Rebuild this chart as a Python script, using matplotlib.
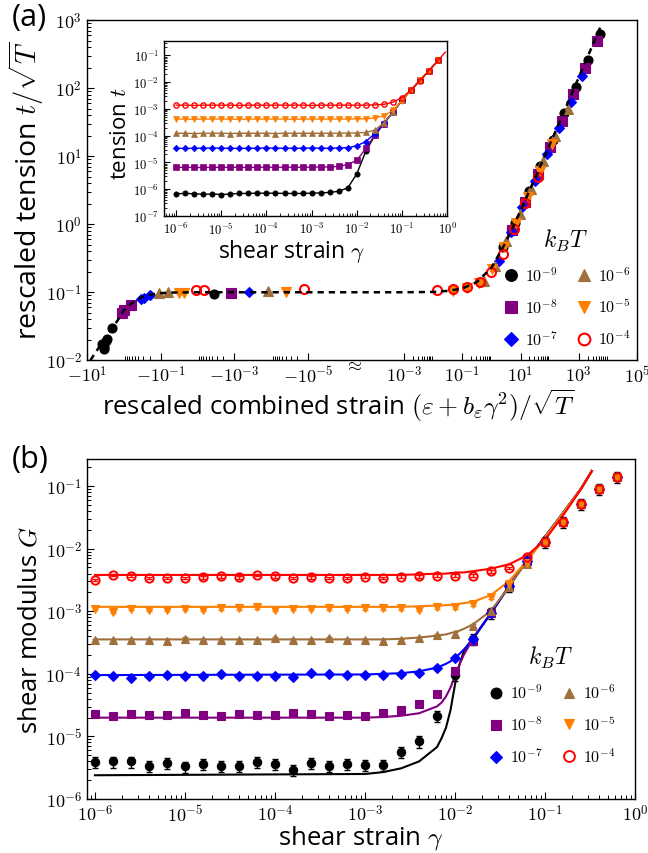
import numpy as np
import matplotlib
matplotlib.use("Agg")
import matplotlib.pyplot as plt
from matplotlib.ticker import FixedLocator, NullFormatter, LogLocator

plt.rcParams['font.family'] = ['Open Sans', 'DejaVu Sans']
plt.rcParams['mathtext.fontset'] = 'cm'

# series: thermal energy k_B T
temp_labels = ['$10^{-9}$', '$10^{-8}$', '$10^{-7}$', '$10^{-6}$', '$10^{-5}$', '$10^{-4}$']
colors = ['#000000', '#800080', '#0000ff', '#a0703c', '#ff8000', '#ff0000']
markers = ['o', 's', 'D', '^', 'v', 'o']

# shear strain grid (log10 gamma) used by the inset and panel (b)
gamma_exp = [-6.0, -5.8, -5.6, -5.4, -5.2, -5.0, -4.8, -4.6, -4.4, -4.2,
             -4.0, -3.8, -3.6, -3.4, -3.2, -3.0, -2.8, -2.6, -2.4, -2.2,
             -2.0, -1.8, -1.6, -1.4, -1.2, -1.0, -0.8, -0.6, -0.4, -0.2]

# ---- inset: log10 tension t
t_black = [-6.17, -6.16, -6.17, -6.19, -6.18, -6.20, -6.18, -6.16, -6.16, -6.15,
           -6.15, -6.15, -6.16, -6.16, -6.16, -6.15, -6.14, -6.12, -6.08, -5.95,
           -5.43, -4.58, -3.99, -3.55, -3.12, -2.68, -2.29, -1.93, -1.57, -1.19]
t_purple = [-5.19, -5.18, -5.19, -5.19, -5.18, -5.19, -5.18, -5.18, -5.19, -5.18,
            -5.18, -5.18, -5.18, -5.18, -5.18, -5.18, -5.17, -5.17, -5.15, -5.08,
            -4.92, -4.48, -3.97, -3.55, -3.12, -2.68, -2.29, -1.93, -1.57, -1.19]
t_blue = [-4.47, -4.48, -4.47, -4.47, -4.46, -4.47, -4.47, -4.48, -4.47, -4.47,
          -4.46, -4.47, -4.47, -4.47, -4.47, -4.46, -4.47, -4.47, -4.46, -4.45,
          -4.38, -4.22, -3.92, -3.53, -3.12, -2.68, -2.29, -1.93, -1.57, -1.19]
t_brown = [-3.91, -3.91, -3.92, -3.91, -3.91, -3.91, -3.92, -3.91, -3.91, -3.91,
           -3.91, -3.92, -3.91, -3.91, -3.91, -3.91, -3.91, -3.91, -3.91, -3.90,
           -3.90, -3.88, -3.79, -3.52, -3.13, -2.68, -2.29, -1.93, -1.57, -1.19]
t_orange = [-3.38, -3.38, -3.39, -3.38, -3.38, -3.38, -3.38, -3.39, -3.38, -3.38,
            -3.38, -3.38, -3.38, -3.39, -3.38, -3.38, -3.38, -3.38, -3.38, -3.38,
            -3.37, -3.37, -3.34, -3.26, -3.05, -2.69, -2.29, -1.93, -1.57, -1.19]
t_red = [-2.86, -2.86, -2.87, -2.86, -2.86, -2.86, -2.86, -2.87, -2.86, -2.86,
         -2.86, -2.86, -2.86, -2.86, -2.86, -2.87, -2.86, -2.86, -2.86, -2.86,
         -2.86, -2.86, -2.85, -2.83, -2.75, -2.58, -2.30, -1.94, -1.57, -1.19]
inset_t = [t_black, t_purple, t_blue, t_brown, t_orange, t_red]
red_tail_gamma_exp = [-0.2, -0.04]
red_tail_t = [-1.19, -0.88]

# ---- panel (a) main: rescaled combined strain (x) vs rescaled tension (y)
neg_x = [[-3.8, -3.5, -3.5, -3.1, -2.8, -2.05, -3.5e-3],
         [-1.1, -0.98, -0.65, -1.23e-3],
         [-0.35, -0.28, -0.20, -3.9e-4],
         [-0.11, -0.065, -1.26e-4],
         [-0.032, -0.023, -3.9e-5],
         [-0.011, -0.0066, -1.26e-5]]
neg_y = [[0.0174, 0.0155, 0.0145, 0.019, 0.0204, 0.030, 0.093],
         [0.050, 0.055, 0.066, 0.098],
         [0.079, 0.083, 0.091, 0.100],
         [0.098, 0.100, 0.105],
         [0.098, 0.096, 0.100],
         [0.107, 0.107, 0.110]]
pos_x_exp = [[3.73, 3.33, 2.91, 2.51, 2.12, 1.68, 1.28, 0.82, 0.40],
             [3.61, 3.21, 2.81, 2.41, 2.00, 1.59, 1.15, 0.70],
             [3.12, 2.72, 2.32, 1.91, 1.51, 1.05, 0.67, 0.25],
             [2.63, 2.20, 1.78, 1.36, 0.99, 0.51, 0.13, -0.27],
             [2.09, 1.66, 1.25, 0.86, 0.42, 0.02, -0.41, -0.84, -1.31],
             [1.59, 1.17, 0.76, 0.40, -0.02, -0.39, -0.84, -1.31, -1.86]]
pos_y_exp = [[2.80, 2.41, 2.02, 1.63, 1.24, 0.86, 0.49, 0.02, -0.34],
             [2.70, 2.30, 1.91, 1.52, 1.13, 0.74, 0.33, -0.08],
             [2.18, 1.80, 1.42, 1.03, 0.64, 0.25, -0.12, -0.54],
             [1.70, 1.30, 0.93, 0.52, 0.15, -0.25, -0.61, -0.83],
             [1.18, 0.79, 0.40, 0.02, -0.34, -0.66, -0.86, -0.94, -0.98],
             [0.70, 0.32, -0.07, -0.43, -0.70, -0.85, -0.92, -0.95, -0.96]]
# theory curve (dashed)
theory_neg_x = [-8.0, -5.0, -3.0, -2.0, -1.4, -1.0, -0.7, -0.5, -0.3, -0.2,
                -0.1, -0.05, -0.01, -1e-3, -1e-6]
theory_neg_y = [0.0100, 0.0147, 0.0225, 0.030, 0.040, 0.054, 0.064, 0.075, 0.086,
                0.092, 0.097, 0.099, 0.100, 0.100, 0.100]
theory_pos_x_exp = [-4.76, -3.0, -2.0, -1.5, -1.0, -0.5, 0.0, 0.5, 1.0, 1.5,
                    2.0, 2.5, 3.0, 3.5, 3.8]
theory_pos_y_exp = [-1.0, -1.0, -0.995, -0.98, -0.945, -0.85, -0.64, -0.26, 0.20,
                    0.68, 1.17, 1.66, 2.16, 2.66, 2.96]

# ---- panel (b): log10 shear modulus G (markers)
G_black = [-5.41, -5.40, -5.40, -5.47, -5.43, -5.48, -5.44, -5.47, -5.47, -5.41,
           -5.44, -5.53, -5.43, -5.47, -5.44, -5.45, -5.45, -5.25, -5.08, -4.67,
           -4.02, -3.45, -3.03, -2.60, -2.20, -1.90, -1.57, -1.28, -1.04, -0.85]
G_purple = [-4.64, -4.67, -4.64, -4.65, -4.65, -4.62, -4.65, -4.67, -4.64, -4.66,
            -4.66, -4.63, -4.64, -4.67, -4.66, -4.67, -4.62, -4.58, -4.48, -4.32,
            -3.96, -3.47, -3.03, -2.60, -2.20, -1.90, -1.57, -1.28, -1.04, -0.85]
G_blue = [-4.02, -4.04, -4.06, -4.03, -4.02, -4.03, -4.03, -4.01, -4.03, -4.04,
          -4.03, -4.05, -3.99, -4.01, -4.02, -4.02, -4.02, -4.00, -3.98, -3.90,
          -3.74, -3.44, -3.03, -2.59, -2.19, -1.90, -1.57, -1.28, -1.04, -0.85]
G_brown = [-3.46, -3.46, -3.46, -3.46, -3.47, -3.44, -3.46, -3.46, -3.46, -3.46,
           -3.43, -3.46, -3.46, -3.43, -3.46, -3.46, -3.47, -3.46, -3.43, -3.38,
           -3.36, -3.23, -2.99, -2.62, -2.25, -1.90, -1.57, -1.28, -1.04, -0.85]
G_orange = [-2.96, -3.01, -2.96, -2.98, -2.98, -2.96, -2.98, -2.95, -2.95, -2.94,
            -2.98, -2.96, -2.96, -2.95, -2.96, -2.95, -2.95, -2.95, -2.98, -2.94,
            -2.94, -2.89, -2.78, -2.57, -2.23, -1.90, -1.57, -1.28, -1.04, -0.85]
G_red = [-2.50, -2.42, -2.43, -2.47, -2.47, -2.47, -2.46, -2.44, -2.46, -2.42,
         -2.44, -2.47, -2.46, -2.47, -2.47, -2.45, -2.47, -2.45, -2.44, -2.43,
         -2.43, -2.43, -2.36, -2.31, -2.14, -1.90, -1.57, -1.28, -1.04, -0.85]
G_data = [G_black, G_purple, G_blue, G_brown, G_orange, G_red]
G_rel_err = [0.2, 0.08, 0.05, 0.05, 0.05, 0.05]

# panel (b): fitted curves (log10 G)
fit_gamma_exp = [-6.0, -3.0, -2.8, -2.6, -2.4, -2.2, -2.15, -2.1, -2.05, -2.0,
                 -1.95, -1.9, -1.8, -1.6, -1.4, -1.2, -1.0, -0.8, -0.6, -0.48]
fit_black = [-5.62, -5.60, -5.57, -5.51, -5.40, -5.17, -5.03, -4.86, -4.58, -4.17,
             -3.85, -3.63, -3.43, -3.03, -2.60, -2.18, -1.81, -1.43, -1.04, -0.76]
fit_purple = [-4.70, -4.70, -4.69, -4.67, -4.63, -4.52, -4.46, -4.36, -4.22, -4.03,
              -3.85, -3.69, -3.44, -3.03, -2.60, -2.18, -1.81, -1.43, -1.04, -0.76]
fit_blue = [-4.02, -4.01, -4.00, -3.99, -3.96, -3.90, -3.87, -3.84, -3.80, -3.75,
            -3.68, -3.61, -3.44, -3.03, -2.60, -2.18, -1.81, -1.43, -1.04, -0.76]
fit_brown = [-3.45, -3.45, -3.45, -3.44, -3.42, -3.39, -3.38, -3.37, -3.35, -3.33,
             -3.31, -3.28, -3.21, -2.99, -2.61, -2.20, -1.81, -1.43, -1.04, -0.76]
fit_orange = [-2.93, -2.93, -2.93, -2.93, -2.92, -2.91, -2.91, -2.90, -2.90, -2.89,
              -2.88, -2.87, -2.85, -2.74, -2.52, -2.19, -1.83, -1.44, -1.04, -0.76]
fit_red = [-2.42, -2.42, -2.42, -2.42, -2.41, -2.40, -2.40, -2.40, -2.39, -2.39,
           -2.38, -2.38, -2.36, -2.32, -2.25, -2.11, -1.86, -1.47, -1.05, -0.76]
G_fits = [fit_black, fit_purple, fit_blue, fit_brown, fit_orange, fit_red]


# broken axis for the combined strain: log of |x| on the negative side,
# log of x on the positive side, joined at a tiny gap
U_LEFT, NEG_DEC = 88.0, 36.75
U_POS3, POS_DEC = 404.0, 29.0
NEG_END, POS_START = 10 ** -6.2, 10 ** -4.76
U_GAP0 = U_LEFT + 7.2 * NEG_DEC
U_GAP1 = U_POS3 + (np.log10(POS_START) + 3) * POS_DEC


def strain_fwd(x):
    shape = np.shape(x)
    x = np.atleast_1d(np.asarray(x, dtype=float)).ravel()
    u = np.full_like(x, np.nan)
    neg = x <= -NEG_END
    pos = x >= POS_START
    mid = ~(neg | pos) & np.isfinite(x)
    with np.errstate(all="ignore"):
        u[neg] = U_LEFT + (1 - np.log10(-x[neg])) * NEG_DEC
        u[pos] = U_POS3 + (np.log10(x[pos]) + 3) * POS_DEC
    u[mid] = U_GAP0 + (x[mid] + NEG_END) / (POS_START + NEG_END) * (U_GAP1 - U_GAP0)
    return u.reshape(shape)


def strain_inv(u):
    shape = np.shape(u)
    u = np.atleast_1d(np.asarray(u, dtype=float)).ravel()
    x = np.full_like(u, np.nan)
    neg = u <= U_GAP0
    pos = u >= U_GAP1
    mid = ~(neg | pos) & np.isfinite(u)
    with np.errstate(all="ignore"):
        x[neg] = -10 ** (1 - (u[neg] - U_LEFT) / NEG_DEC)
        x[pos] = 10 ** ((u[pos] - U_POS3) / POS_DEC - 3)
    x[mid] = -NEG_END + (u[mid] - U_GAP0) / (U_GAP1 - U_GAP0) * (POS_START + NEG_END)
    return x.reshape(shape)


def decade_labels(exps):
    return ['$10^{%d}$' % e for e in exps]


fig = plt.figure(figsize=(6.48, 8.54), dpi=100)
ax1 = fig.add_axes([0.134, 0.577, 0.849, 0.398])
axin = fig.add_axes([0.253, 0.746, 0.437, 0.205])
ax2 = fig.add_axes([0.134, 0.0632, 0.846, 0.398])

# ---------------- panel (a)
ax1.set_xscale('function', functions=(strain_fwd, strain_inv))
ax1.set_yscale('log')
ax1.plot(theory_neg_x + list(10 ** np.array(theory_pos_x_exp)),
         theory_neg_y + list(10 ** np.array(theory_pos_y_exp)),
         color='black', lw=1.8, ls=(0, (2.5, 2.0)), zorder=4)
handles = []
for i in range(6):
    xs = neg_x[i] + list(10 ** np.array(pos_x_exp[i]))
    ys = neg_y[i] + list(10 ** np.array(pos_y_exp[i]))
    face = 'none' if i == 5 else colors[i]
    ms = 5.5 if markers[i] == 'D' else 6.5
    h, = ax1.plot(xs, ys, ls='none', marker=markers[i], ms=ms, mfc=face,
                  mec=colors[i], mew=1.5 if i == 5 else 0.8, zorder=3,
                  label=temp_labels[i])
    handles.append(h)

ax1.set_xlim(-10, 1e5)
ax1.set_ylim(1e-2, 1e3)
major_x = [-10.0, -0.1, -1e-3, -1e-5, 1e-3, 1e-1, 10.0, 1e3, 1e5]
major_lab = ['$-10^{1}$', '$-10^{-1}$', '$-10^{-3}$', '$-10^{-5}$',
             '$10^{-3}$', '$10^{-1}$', '$10^{1}$', '$10^{3}$', '$10^{5}$']
ax1.xaxis.set_major_locator(FixedLocator(major_x))
ax1.set_xticklabels(major_lab)
minor_x = []
for d in [1e-1, 1e-3, 1e-5]:
    minor_x += [-k * d for k in range(2, 10)]
for d in [1e-3, 1e-1, 1e1, 1e3]:
    minor_x += [k * d for k in range(2, 10)]
ax1.xaxis.set_minor_locator(FixedLocator(minor_x))
ax1.xaxis.set_minor_formatter(NullFormatter())
ax1.set_yticks([10.0 ** e for e in range(-2, 4)], decade_labels(range(-2, 4)))
ax1.yaxis.set_minor_locator(LogLocator(base=10, subs=np.arange(2, 10), numticks=20))
ax1.yaxis.set_minor_formatter(NullFormatter())
ax1.set_xlabel(r'rescaled combined strain $(\varepsilon + b_\varepsilon\gamma^2)/\sqrt{T}$',
               fontsize=18.5)
ax1.xaxis.set_label_coords(0.456, -0.078)
ax1.set_ylabel(r'rescaled tension $t/\sqrt{T}$', fontsize=20.5)
ax1.yaxis.set_label_coords(-0.074, 0.5)
ax1.text(0.484, -0.012, r'$\approx$', transform=ax1.transAxes, ha='center',
         va='center', fontsize=13)
ax1.legend(handles=handles, ncol=2, loc='lower right',
           bbox_to_anchor=(1.0, 0.015), borderaxespad=0, frameon=False,
           fontsize=11.5, title='$k_BT$', title_fontsize=17, markerscale=1.3,
           handletextpad=0.3, columnspacing=1.0, labelspacing=0.85,
           handlelength=1.2)

# ---------------- inset
axin.set_xscale('log')
axin.set_yscale('log')
g = 10 ** np.array(gamma_exp)
for i in range(6):
    face = 'none' if i == 5 else colors[i]
    axin.plot(g, 10 ** np.array(inset_t[i]), color=colors[i], lw=1.0,
              marker=markers[i], ms=3.8 if markers[i] != 'D' else 3.3,
              mfc=face, mec=colors[i], mew=1.0 if i == 5 else 0.5)
axin.plot(10 ** np.array(red_tail_gamma_exp), 10 ** np.array(red_tail_t),
          color=colors[5], lw=1.0)
axin.set_xlim(10 ** -6.27, 1.0)
axin.set_ylim(1e-7, 0.35)
axin.set_xticks([10.0 ** e for e in range(-6, 1)], decade_labels(range(-6, 1)))
axin.set_yticks([10.0 ** e for e in range(-7, 0)], decade_labels(range(-7, 0)))
for a in (axin.xaxis, axin.yaxis):
    a.set_minor_locator(LogLocator(base=10, subs=np.arange(2, 10), numticks=20))
    a.set_minor_formatter(NullFormatter())
axin.set_xlabel(r'shear strain $\gamma$', fontsize=16.5)
axin.xaxis.set_label_coords(0.45, -0.12)
axin.set_ylabel(r'tension $t$', fontsize=16)
axin.yaxis.set_label_coords(-0.118, 0.474)
axin.tick_params(which='both', direction='in', labelsize=9, top=False, right=False)
axin.tick_params(which='major', length=4)
axin.tick_params(which='minor', length=2.5)

# ---------------- panel (b)
ax2.set_xscale('log')
ax2.set_yscale('log')
gf = 10 ** np.array(fit_gamma_exp)
for i in range(6):
    ax2.plot(gf, 10 ** np.array(G_fits[i]), color=colors[i], lw=1.5, zorder=2)
handles2 = []
for i in range(6):
    G = 10 ** np.array(G_data[i])
    face = 'none' if i == 5 else colors[i]
    ms = 5 if markers[i] == 'D' else 6
    ax2.errorbar(g, G, yerr=G * G_rel_err[i], ls='none', ecolor=colors[i],
                 elinewidth=1.0, capsize=2, zorder=3)
    h, = ax2.plot(g, G, ls='none', marker=markers[i], ms=ms, mfc=face,
                  mec=colors[i], mew=1.4 if i == 5 else 0.8, zorder=4,
                  label=temp_labels[i])
    handles2.append(h)
ax2.set_xlim(10 ** -6.09, 1.0)
ax2.set_ylim(1e-6, 10 ** -0.57)
ax2.set_xticks([10.0 ** e for e in range(-6, 1)], decade_labels(range(-6, 1)))
ax2.set_yticks([10.0 ** e for e in range(-6, 0)], decade_labels(range(-6, 0)))
for a in (ax2.xaxis, ax2.yaxis):
    a.set_minor_locator(LogLocator(base=10, subs=np.arange(2, 10), numticks=20))
    a.set_minor_formatter(NullFormatter())
ax2.set_xlabel(r'shear strain $\gamma$', fontsize=18.5)
ax2.xaxis.set_label_coords(0.5, -0.07)
ax2.set_ylabel(r'shear modulus $G$', fontsize=18.5)
ax2.yaxis.set_label_coords(-0.080, 0.5)
ax2.legend(handles=handles2, ncol=2, loc='lower right', bbox_to_anchor=(0.976, 0.078),
           borderaxespad=0, frameon=False, fontsize=11.5, title='$k_BT$',
           title_fontsize=17, markerscale=1.3, handletextpad=0.3,
           columnspacing=1.0, labelspacing=0.85, handlelength=1.2)

for ax in (ax1, ax2):
    ax.tick_params(which='both', direction='in', labelsize=13, top=False, right=False)
    ax.tick_params(which='major', length=5, width=0.8)
    ax.tick_params(which='minor', length=3, width=0.7)
for ax in (ax1, axin, ax2):
    for s in ax.spines.values():
        s.set_linewidth(1.0)

fig.text(0.018, 0.979, '(a)', fontsize=22, ha='left', va='center')
fig.text(0.018, 0.461, '(b)', fontsize=22, ha='left', va='center')

fig.savefig('out.png', dpi=100)
